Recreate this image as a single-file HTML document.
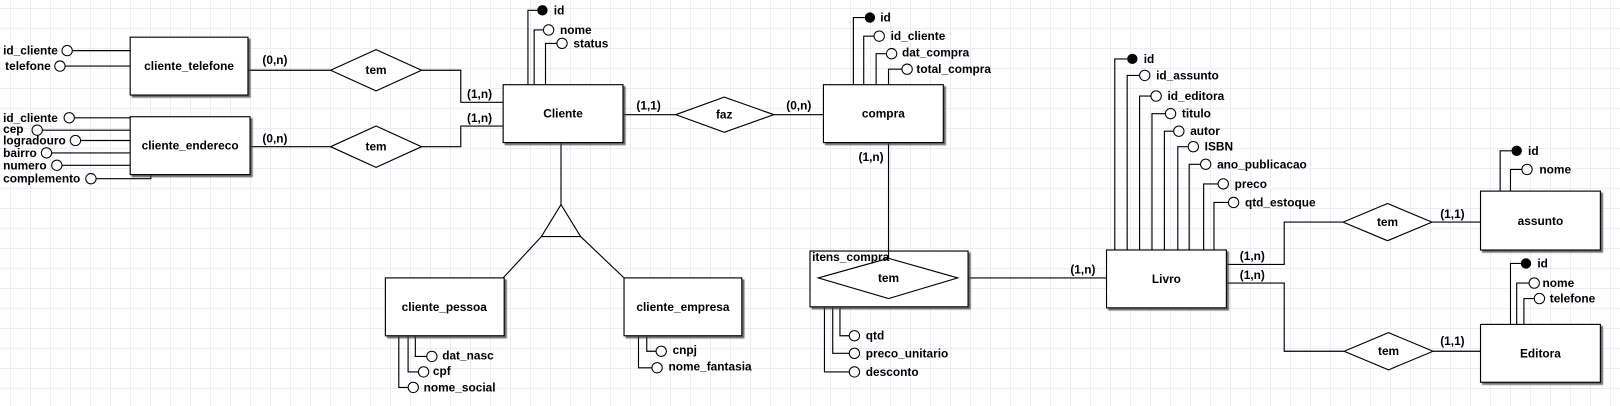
<!DOCTYPE html>
<html><head><meta charset="utf-8"><style>
html,body{margin:0;padding:0;}
body{width:1620px;height:406px;overflow:hidden;background-color:#fff;
background-image:linear-gradient(#e9eef4 1px,transparent 1px),linear-gradient(90deg,#e9eef4 1px,transparent 1px);
background-size:20px 20px;background-position:10px 8px;}
svg{position:absolute;left:0;top:0;}
text{font-family:"Liberation Sans",Arial,sans-serif;font-weight:bold;font-size:11.5px;fill:#000;}
.c{text-anchor:middle;dominant-baseline:central;}
.a{dominant-baseline:central;}
</style></head><body>
<svg width="1620" height="406" viewBox="0 0 1568 393" preserveAspectRatio="none">
<defs>
<filter id="sh" x="-5%" y="-5%" width="115%" height="125%"><feDropShadow dx="2" dy="2" stdDeviation="0.6" flood-color="#444" flood-opacity="0.8"/></filter>
</defs>
<g stroke="#000" stroke-width="1.1" fill="none">
<polyline points="70,49 126,49"/><polyline points="63,64 126,64"/>
<polyline points="240,68 320,68"/><polyline points="408,68 446,68 446,99 487,99"/>
<polyline points="72,114 126,114"/><polyline points="41,126 126,126"/><polyline points="78,136 126,136"/>
<polyline points="50,148 126,148"/><polyline points="60,160 126,160"/><polyline points="93,173 146,173 146,169"/>
<polyline points="242,142 320,142"/><polyline points="408,142 446,142 446,122 487,122"/>
<polyline points="511,82 511,10 520,10"/><polyline points="517,82 517,29 526,29"/><polyline points="528,82 528,42 539,42"/>
<line x1="543" y1="138" x2="543" y2="198"/>
<polygon points="543,198 524,229 562,229"/>
<line x1="524" y1="229" x2="487" y2="269"/><line x1="562" y1="229" x2="604" y2="269"/>
<polyline points="386,325 386,375 395,375"/><polyline points="395,325 395,360 405,360"/><polyline points="402,325 402,345 413,345"/>
<polyline points="618,325 618,356 631,356"/><polyline points="626,325 626,340 635,340"/>
<line x1="603" y1="111" x2="654" y2="111"/><line x1="749" y1="111" x2="797" y2="111"/>
<polyline points="826,82 826,17 837,17"/><polyline points="836,82 836,35 846,35"/><polyline points="848,82 848,52 858,52"/><polyline points="860,82 860,67 873,67"/>
<line x1="860" y1="138" x2="860" y2="250"/>
<polyline points="798,297 798,360 822,360"/><polyline points="806,297 806,342 822,342"/><polyline points="813,297 813,325 822,325"/>
<line x1="927" y1="269" x2="1071" y2="269"/>
<polyline points="1079,242 1079,57 1091,57"/>
<polyline points="1091,242 1091,73 1103,73"/>
<polyline points="1103,242 1103,93 1114,93"/>
<polyline points="1115,242 1115,110 1128,110"/>
<polyline points="1127,242 1127,127 1136,127"/>
<polyline points="1140,242 1140,142 1150,142"/>
<polyline points="1151,242 1151,159 1162,159"/>
<polyline points="1165,242 1165,178 1179,178"/>
<polyline points="1175,242 1175,196 1189,196"/>
<polyline points="1187,256 1243,256 1243,215 1300,215"/>
<line x1="1386" y1="215" x2="1433" y2="215"/>
<polyline points="1187,274 1243,274 1243,340 1301,340"/>
<line x1="1387" y1="340" x2="1433" y2="340"/>
<polyline points="1452,185 1452,146 1463,146"/><polyline points="1462,185 1462,164 1473,164"/>
<polyline points="1462,314 1462,255 1472,255"/><polyline points="1468,314 1468,274 1480,274"/><polyline points="1475,314 1475,289 1485,289"/>
</g>
<g stroke="#000" stroke-width="1.1" fill="#fff" filter="url(#sh)">
<rect x="126" y="36" width="114" height="56"/>
<rect x="126" y="113" width="116" height="56"/>
<rect x="487" y="82" width="116" height="56"/>
<rect x="373" y="269" width="115" height="56"/>
<rect x="604" y="269" width="114" height="56"/>
<rect x="797" y="82" width="116" height="56"/>
<rect x="784" y="243" width="153" height="54"/>
<rect x="1071" y="242" width="116" height="56"/>
<rect x="1433" y="185" width="116" height="57"/>
<rect x="1433" y="314" width="116" height="56"/>
</g>
<line x1="860" y1="243" x2="860" y2="250" stroke="#000" stroke-width="1.1"/>
<g stroke="#000" stroke-width="1.1" fill="#fff">
<polygon points="320,68 364,48 408,68 364,88"/>
<polygon points="320,142 364,122 408,142 364,162"/>
<polygon points="654,111 701,94 749,111 701,128"/>
<polygon points="792,269 860,250 927,269 860,289"/>
<polygon points="1300,215 1343,197 1386,215 1343,233"/>
<polygon points="1301,340 1344,322 1387,340 1344,358"/>
</g>
<g stroke="#000" stroke-width="1" fill="#fff">
<circle cx="65" cy="49" r="5"/><circle cx="58" cy="64" r="5"/>
<circle cx="67" cy="114" r="5"/><circle cx="36" cy="126" r="5"/><circle cx="73" cy="136" r="5"/><circle cx="45" cy="148" r="5"/><circle cx="55" cy="160" r="5"/><circle cx="88" cy="173" r="5"/>
<circle cx="531" cy="29" r="5"/><circle cx="544" cy="42" r="5"/>
<circle cx="418" cy="345" r="5"/><circle cx="410" cy="360" r="5"/><circle cx="400" cy="375" r="5"/>
<circle cx="640" cy="340" r="5"/><circle cx="636" cy="356" r="5"/>
<circle cx="851" cy="35" r="5"/><circle cx="863" cy="52" r="5"/><circle cx="878" cy="67" r="5"/>
<circle cx="827" cy="325" r="5"/><circle cx="827" cy="342" r="5"/><circle cx="827" cy="360" r="5"/>
<circle cx="1108" cy="73" r="5"/><circle cx="1119" cy="93" r="5"/><circle cx="1133" cy="110" r="5"/><circle cx="1141" cy="127" r="5"/><circle cx="1155" cy="142" r="5"/><circle cx="1167" cy="159" r="5"/><circle cx="1184" cy="178" r="5"/><circle cx="1194" cy="196" r="5"/>
<circle cx="1478" cy="164" r="5"/>
<circle cx="1485" cy="274" r="5"/><circle cx="1490" cy="289" r="5"/>
</g>
<g fill="#000">
<circle cx="525" cy="10" r="5"/><circle cx="842" cy="17" r="5"/><circle cx="1096" cy="57" r="5"/><circle cx="1468" cy="146" r="5"/><circle cx="1477" cy="255" r="5"/>
</g>
<text class="c" x="183" y="64">cliente_telefone</text>
<text class="c" x="184" y="141">cliente_endereco</text>
<text class="c" x="545" y="110">Cliente</text>
<text class="c" x="430" y="297">cliente_pessoa</text>
<text class="c" x="661" y="297">cliente_empresa</text>
<text class="c" x="855" y="110">compra</text>
<text class="c" x="1129" y="270">Livro</text>
<text class="c" x="1491" y="214">assunto</text>
<text class="c" x="1491" y="342">Editora</text>
<text class="c" x="364" y="68">tem</text>
<text class="c" x="364" y="142">tem</text>
<text class="c" x="701" y="111">faz</text>
<text class="c" x="860" y="269">tem</text>
<text class="c" x="1343" y="215">tem</text>
<text class="c" x="1344" y="340">tem</text>
<text class="a" x="786" y="249">itens_compra</text>
<text class="a" x="254" y="58">(0,n)</text>
<text class="a" x="452" y="91">(1,n)</text>
<text class="a" x="254" y="134">(0,n)</text>
<text class="a" x="452" y="114">(1,n)</text>
<text class="a" x="616" y="102">(1,1)</text>
<text class="a" x="761" y="102">(0,n)</text>
<text class="a" x="831" y="152">(1,n)</text>
<text class="a" x="1036" y="261">(1,n)</text>
<text class="a" x="1200" y="248">(1,n)</text>
<text class="a" x="1200" y="266">(1,n)</text>
<text class="a" x="1394" y="207">(1,1)</text>
<text class="a" x="1394" y="330">(1,1)</text>
<text class="a" x="3" y="49">id_cliente</text>
<text class="a" x="5" y="64">telefone</text>
<text class="a" x="3" y="114">id_cliente</text>
<text class="a" x="3" y="125">cep</text>
<text class="a" x="3" y="136">logradouro</text>
<text class="a" x="3" y="148">bairro</text>
<text class="a" x="3" y="160">numero</text>
<text class="a" x="3" y="173">complemento</text>
<text class="a" x="536" y="10">id</text>
<text class="a" x="542" y="29">nome</text>
<text class="a" x="555" y="42">status</text>
<text class="a" x="428" y="344">dat_nasc</text>
<text class="a" x="419" y="359">cpf</text>
<text class="a" x="410" y="375">nome_social</text>
<text class="a" x="651" y="339">cnpj</text>
<text class="a" x="647" y="355">nome_fantasia</text>
<text class="a" x="852" y="17">id</text>
<text class="a" x="862" y="35">id_cliente</text>
<text class="a" x="873" y="51">dat_compra</text>
<text class="a" x="887" y="67">total_compra</text>
<text class="a" x="838" y="325">qtd</text>
<text class="a" x="838" y="342">preco_unitario</text>
<text class="a" x="838" y="360">desconto</text>
<text class="a" x="1107" y="57">id</text>
<text class="a" x="1119" y="73">id_assunto</text>
<text class="a" x="1130" y="93">id_editora</text>
<text class="a" x="1144" y="110">titulo</text>
<text class="a" x="1152" y="127">autor</text>
<text class="a" x="1166" y="142">ISBN</text>
<text class="a" x="1178" y="159">ano_publicacao</text>
<text class="a" x="1195" y="178">preco</text>
<text class="a" x="1205" y="196">qtd_estoque</text>
<text class="a" x="1479" y="146">id</text>
<text class="a" x="1490" y="164">nome</text>
<text class="a" x="1488" y="255">id</text>
<text class="a" x="1493" y="274">nome</text>
<text class="a" x="1500" y="289">telefone</text>
</svg>
</body></html>
